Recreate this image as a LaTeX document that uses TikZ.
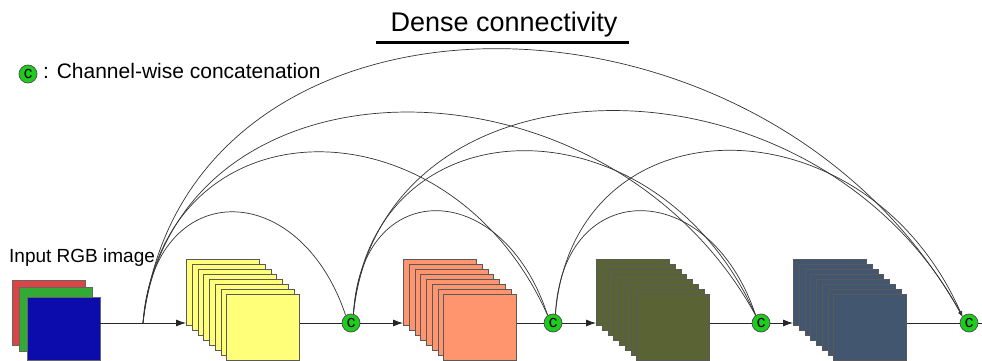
\documentclass[tikz,border=0pt]{standalone}
\usepackage{fontspec}
\setmainfont{Liberation Sans}
\usetikzlibrary{arrows.meta}
\definecolor{cgreen}{HTML}{1ECC1E}
\definecolor{cyel}{HTML}{FFFF7A}
\definecolor{corange}{HTML}{FF956F}
\definecolor{colive}{HTML}{596333}
\definecolor{cslate}{HTML}{435670}
\definecolor{cred}{HTML}{DD4444}
\definecolor{cgr}{HTML}{33AA33}
\definecolor{cblue}{HTML}{0C0CAC}
\begin{document}
\begin{tikzpicture}[x=1pt,y=-1pt,
  stackbox/.style={rectangle,draw=black!65,line width=0.7pt,minimum width=73pt,minimum height=66pt,anchor=north west,inner sep=0pt},
  cc/.style={circle,fill=cgreen,draw=black!70,line width=0.7pt,minimum size=18pt,inner sep=0pt,font=\fontsize{17}{17}\selectfont},
  arcline/.style={draw=black!80,line width=0.7pt},
  arcarr/.style={arcline,-{Latex[length=5pt,width=4pt]}},
  mainline/.style={draw=black!85,line width=0.8pt},
  arr/.style={mainline,-{Latex[length=10pt,width=7pt]}}]
\useasboundingbox (0,0) rectangle (982,361);
% title and legend
\node[font=\fontsize{27}{27}\selectfont,anchor=base,inner sep=0pt] (title) at (504,32) {Dense connectivity};
\coordinate (ul1) at (376,43);
\coordinate (ul2) at (629,43);
\draw[line width=3pt] (ul1) -- (ul2);
\node[cc] (lc) at (28,74) {c};
\node[font=\fontsize{21}{21}\selectfont,anchor=base west,inner sep=0pt] (lt) at (43,78) {: Channel-wise concatenation};
\node[font=\fontsize{19}{19}\selectfont,anchor=base west,inner sep=0pt] (inlabel) at (9,262) {Input RGB image};
% input image
\node[rectangle,draw=black!60,fill=cred,minimum width=73pt,minimum height=65pt,anchor=north west,inner sep=0pt] (rimg) at (12,280) {};
\node[rectangle,draw=black!60,fill=cgr,minimum width=73pt,minimum height=64pt,anchor=north west,inner sep=0pt] (gimg) at (19,287) {};
\node[rectangle,draw=black!60,fill=cblue,minimum width=73pt,minimum height=63pt,anchor=north west,inner sep=0pt] (bimg) at (27,297) {};
% junctions
\coordinate (s0) at (143,323);
\node[cc] (c1) at (351,323) {c};
\node[cc] (c2) at (553,323) {c};
\node[cc] (c3) at (761,323) {c};
\node[cc] (c4) at (969,323) {c};
\coordinate (tail) at (982,323);
% dense arcs
\foreach \a/\b/\p/\q/\h in {
  s0/c1.125/153/299/176, s0/c2.125/164/450/96, s0/c3.125/174/606/43,
  c1.75/c2.125/361/502/176, c1.75/c3.125/372/658/96,
  c2.75/c3.125/563/709/176}
  \draw[arcline] (\a) .. controls (\p,\h) and (\q,\h) .. (\b);
\foreach \a/\b/\p/\q/\h in {
  s0/c4.135/184/762/-41, c1.75/c4.135/382/814/43, c2.75/c4.135/574/865/96}
  \draw[arcarr] (\a) .. controls (\p,\h) and (\q,\h) .. (\b);
% feature map stacks
\foreach \i in {0,...,7} \node[stackbox,fill=cyel] (ya\i) at ({186+5.75*\i},{259+5*\i}) {};
\foreach \i in {0,...,7} \node[stackbox,fill=corange] (ob\i) at ({403+5.75*\i},{259+5*\i}) {};
\foreach \i in {0,...,7} \node[stackbox,fill=colive] (ol\i) at ({596+5.75*\i},{259+5*\i}) {};
\foreach \i in {0,...,7} \node[stackbox,fill=cslate] (sl\i) at ({793+5.75*\i},{259+5*\i}) {};
% main line
\draw[mainline] (bimg.east |- s0) -- (s0);
\draw[arr] (s0) -- (s0 -| ya0.west);
\draw[mainline] (ya7.east |- c1) -- (c1);
\draw[arr] (c1) -- (c1 -| ob0.west);
\draw[mainline] (ob7.east |- c2) -- (c2);
\draw[arr] (c2) -- (c2 -| ol0.west);
\draw[mainline] (ol7.east |- c3) -- (c3);
\draw[arr] (c3) -- (c3 -| sl0.west);
\draw[mainline] (sl7.east |- c4) -- (c4);
\draw[mainline] (c4) -- (tail);
\end{tikzpicture}
\end{document}
